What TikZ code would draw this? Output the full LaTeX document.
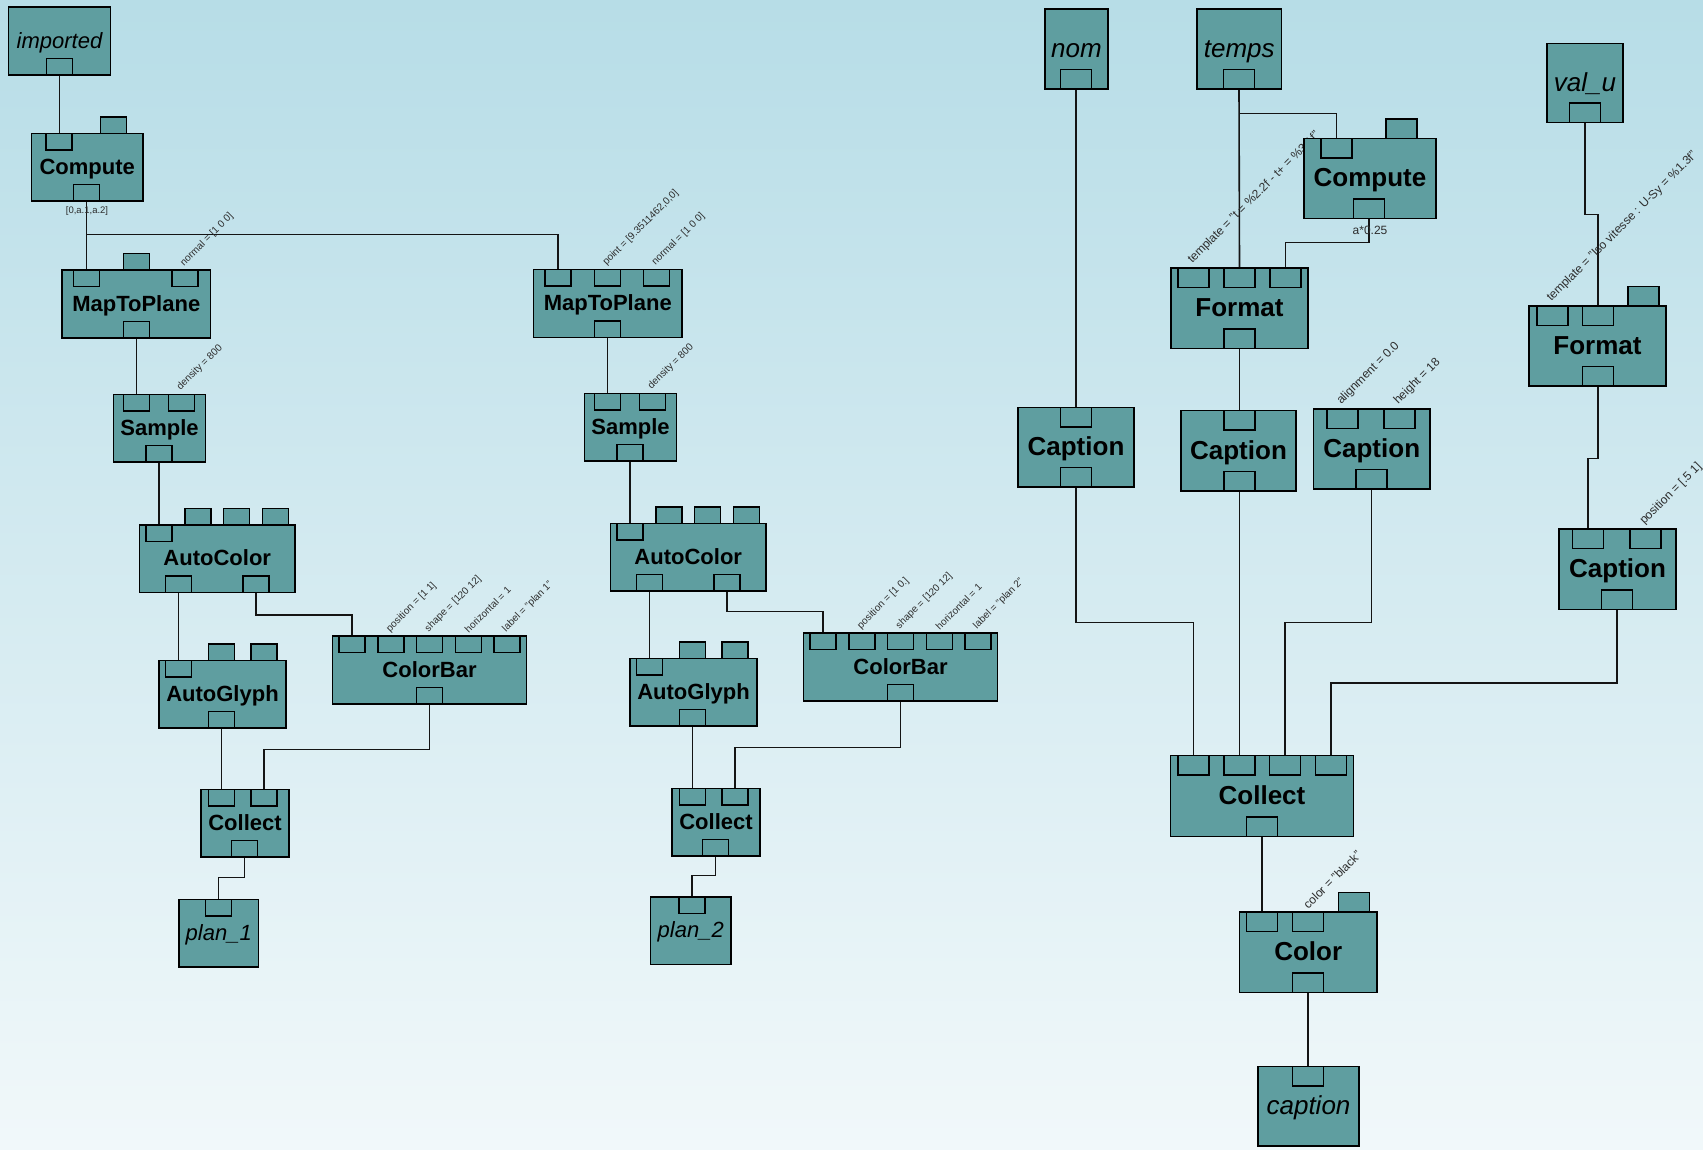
\documentclass[tikz,border=0pt]{standalone}
\usepackage{fontspec}
\setmainfont{Liberation Sans}
\definecolor{teal0}{RGB}{95,158,160}
\definecolor{bgtop}{RGB}{183,221,231}
\definecolor{bgbot}{RGB}{241,248,250}
\definecolor{wirecol}{RGB}{20,20,20}
\definecolor{labcol}{RGB}{45,45,45}
\pgfdeclarelayer{back}
\pgfdeclarelayer{links}
\pgfsetlayers{back,links,main}
% parameter label above an input port
\newcommand\parlabel[3]{\node[#1] at ([xshift=0.5pt,yshift=2pt]#2.north) {#3};}
\begin{document}
\begin{tikzpicture}[x=1pt,y=-1pt,
  box/.style={draw=black, fill=teal0, line width=1.5pt, anchor=north west,
    inner sep=0pt, outer sep=0pt},
  boxL/.style={box, text height=15.8pt, text depth=1.8pt},
  boxR/.style={box, text height=18.7pt, text depth=2.1pt},
  fnL/.style={boxL, font=\fontsize{22}{26}\selectfont\bfseries},
  fnR/.style={boxR, font=\fontsize{26}{30}\selectfont\bfseries},
  ioL/.style={boxL, font=\fontsize{22}{26}\selectfont\itshape},
  ioR/.style={boxR, font=\fontsize{26}{30}\selectfont\itshape},
  portL/.style={draw=black, fill=teal0, line width=1.3pt, inner sep=0pt,
    outer sep=0pt, minimum width=26pt, minimum height=16.5pt},
  portR/.style={draw=black, fill=teal0, line width=1.3pt, inner sep=0pt,
    outer sep=0pt, minimum width=31pt, minimum height=19.5pt},
  portInL/.style={portL, anchor=north west},
  portUpL/.style={portL, anchor=south west},
  portDnL/.style={portL, anchor=south west},
  portInR/.style={portR, anchor=north west},
  portUpR/.style={portR, anchor=south west},
  portDnR/.style={portR, anchor=south west},
  wire/.style={draw=wirecol, line width=1.6pt},
  par/.style={rotate=45, anchor=south west, inner sep=0pt, text=labcol},
  parL/.style={par, font=\fontsize{10}{12}\selectfont},
  parR/.style={par, font=\fontsize{12}{14}\selectfont},
  note/.style={inner sep=0pt, text=labcol}]

\useasboundingbox (0,0) rectangle (1703,1149);
\begin{pgfonlayer}{back}
  \shade[top color=bgtop, bottom color=bgbot] (0,0) rectangle (1703,1149);
\end{pgfonlayer}

% ---------------- first pipeline ----------------
\node[ioL, minimum width=102pt, minimum height=68pt] (imp) at (8.5,7) {imported};
\node[portDnL] (impo) at (46.5,75) {};

\node[fnL, minimum width=111.5pt, minimum height=67.5pt] (cmp1) at (31.5,133.5) {Compute};
\node[portInL] (c1i1) at (46,133.5) {};
\node[portUpL] (c1i2) at (100.5,133.5) {};
\node[portDnL] (c1o) at (73.5,201) {};
\node[note, font=\fontsize{9.5}{11}\selectfont] (c1lab) at (87,211) {[0,a.1,a.2]};

\node[fnL, minimum width=148.5pt, minimum height=68pt] (mtp1) at (62,270) {MapToPlane};
\node[portInL] (m1i1) at (73.5,270) {};
\node[portUpL] (m1i2) at (123.5,270) {};
\node[portInL] (m1i3) at (172,270) {};
\node[portDnL] (m1o) at (123.5,338) {};

\node[fnL, minimum width=92pt, minimum height=67.5pt] (smp1) at (113.5,394.5) {Sample};
\node[portInL] (s1i1) at (123.5,394.5) {};
\node[portInL] (s1i2) at (168.5,394.5) {};
\node[portDnL] (s1o) at (146,462) {};

\node[fnL, minimum width=155.5pt, minimum height=67.5pt] (ac1) at (139.5,525) {AutoColor};
\node[portInL] (a1i1) at (146,525) {};
\node[portUpL] (a1i2) at (185,525) {};
\node[portUpL] (a1i3) at (223.5,525) {};
\node[portUpL] (a1i4) at (262.5,525) {};
\node[portDnL] (a1o1) at (165.5,592.5) {};
\node[portDnL] (a1o2) at (243,592.5) {};

\node[fnL, minimum width=127pt, minimum height=67.5pt] (ag1) at (159,660.5) {AutoGlyph};
\node[portInL] (g1i1) at (165.5,660.5) {};
\node[portUpL] (g1i2) at (208.5,660.5) {};
\node[portUpL] (g1i3) at (251,660.5) {};
\node[portDnL] (g1o) at (208.5,728) {};

\node[fnL, minimum width=194pt, minimum height=68pt] (cb1) at (332.5,636) {ColorBar};
\node[portInL] (b1i1) at (339,636) {};
\node[portInL] (b1i2) at (378,636) {};
\node[portInL] (b1i3) at (416.5,636) {};
\node[portInL] (b1i4) at (455.5,636) {};
\node[portInL] (b1i5) at (494,636) {};
\node[portDnL] (b1o) at (416.5,704) {};

\node[fnL, minimum width=88pt, minimum height=67.5pt] (cl1) at (201,789.5) {Collect};
\node[portInL] (l1i1) at (208.5,789.5) {};
\node[portInL] (l1i2) at (251,789.5) {};
\node[portDnL] (l1o) at (231.5,857) {};

\node[ioL, minimum width=79.5pt, minimum height=67.5pt] (pl1) at (179,899.5) {plan\_1};
\node[portInL] (p1i) at (205.5,899.5) {};

% ---------------- second pipeline ----------------
\node[fnL, minimum width=148.5pt, minimum height=68pt] (mtp2) at (533.5,269.5) {MapToPlane};
\node[portInL] (m2i1) at (545,269.5) {};
\node[portInL] (m2i2) at (594.5,269.5) {};
\node[portInL] (m2i3) at (643.5,269.5) {};
\node[portDnL] (m2o) at (594.5,337.5) {};

\node[fnL, minimum width=92pt, minimum height=67.5pt] (smp2) at (584.5,393.5) {Sample};
\node[portInL] (s2i1) at (594.5,393.5) {};
\node[portInL] (s2i2) at (639.5,393.5) {};
\node[portDnL] (s2o) at (617,461) {};

\node[fnL, minimum width=155.5pt, minimum height=67.5pt] (ac2) at (610.5,523.5) {AutoColor};
\node[portInL] (a2i1) at (617,523.5) {};
\node[portUpL] (a2i2) at (656,523.5) {};
\node[portUpL] (a2i3) at (694.5,523.5) {};
\node[portUpL] (a2i4) at (733.5,523.5) {};
\node[portDnL] (a2o1) at (636.5,591) {};
\node[portDnL] (a2o2) at (714,591) {};

\node[fnL, minimum width=127pt, minimum height=67.5pt] (ag2) at (630,658.5) {AutoGlyph};
\node[portInL] (g2i1) at (636.5,658.5) {};
\node[portUpL] (g2i2) at (679.5,658.5) {};
\node[portUpL] (g2i3) at (722,658.5) {};
\node[portDnL] (g2o) at (679.5,726) {};

\node[fnL, minimum width=194pt, minimum height=68pt] (cb2) at (803.5,633) {ColorBar};
\node[portInL] (b2i1) at (810,633) {};
\node[portInL] (b2i2) at (849,633) {};
\node[portInL] (b2i3) at (887.5,633) {};
\node[portInL] (b2i4) at (926.5,633) {};
\node[portInL] (b2i5) at (965,633) {};
\node[portDnL] (b2o) at (887.5,701) {};

\node[fnL, minimum width=88pt, minimum height=67.5pt] (cl2) at (672,788.5) {Collect};
\node[portInL] (l2i1) at (679.5,788.5) {};
\node[portInL] (l2i2) at (722,788.5) {};
\node[portDnL] (l2o) at (702.5,856) {};

\node[ioL, minimum width=80.5pt, minimum height=67.5pt] (pl2) at (650.5,897) {plan\_2};
\node[portInL] (p2i) at (679,897) {};

% ---------------- caption pipeline ----------------
\node[ioR, minimum width=63pt, minimum height=80pt] (nom) at (1045,9) {nom};
\node[portDnR] (nomo) at (1060.5,89) {};
\node[ioR, minimum width=84.5pt, minimum height=80pt] (temps) at (1197,9) {temps};
\node[portDnR] (tmo) at (1223.5,89) {};
\node[ioR, minimum width=76pt, minimum height=79pt] (valu) at (1547,43.5) {val\_u};
\node[portDnR] (vuo) at (1569.5,122.5) {};

\node[fnR, minimum width=132pt, minimum height=80pt] (cmp2) at (1304,138.5) {Compute};
\node[portInR] (c2i1) at (1321,138.5) {};
\node[portUpR] (c2i2) at (1386,138.5) {};
\node[portDnR] (c2o) at (1353.5,218.5) {};
\node[note, font=\fontsize{12}{14}\selectfont] (c2lab) at (1370,230) {a*0.25};

\node[fnR, minimum width=137pt, minimum height=80.5pt] (fmt1) at (1171,268) {Format};
\node[portInR] (f1i1) at (1178,268) {};
\node[portInR] (f1i2) at (1224,268) {};
\node[portInR] (f1i3) at (1270,268) {};
\node[portDnR] (f1o) at (1224,348.5) {};

\node[fnR, minimum width=137pt, minimum height=80pt] (fmt2) at (1529,306) {Format};
\node[portInR] (f2i1) at (1537,306) {};
\node[portInR] (f2i2) at (1582.5,306) {};
\node[portUpR] (f2i3) at (1628,306) {};
\node[portDnR] (f2o) at (1582.5,386) {};

\node[fnR, minimum width=116pt, minimum height=79.5pt] (cap1) at (1018,407.5) {Caption};
\node[portInR] (k1i) at (1060.5,407.5) {};
\node[portDnR] (k1o) at (1060.5,487) {};

\node[fnR, minimum width=115pt, minimum height=80.5pt] (cap2) at (1181,410.5) {Caption};
\node[portInR] (k2i) at (1224,410.5) {};
\node[portDnR] (k2o) at (1224,491) {};

\node[fnR, minimum width=116.5pt, minimum height=80pt] (cap3) at (1313.5,409) {Caption};
\node[portInR] (k3i1) at (1327,409) {};
\node[portInR] (k3i2) at (1384,409) {};
\node[portDnR] (k3o) at (1356,489) {};

\node[fnR, minimum width=117pt, minimum height=80.5pt] (cap4) at (1559,529) {Caption};
\node[portInR] (k4i1) at (1572.5,529) {};
\node[portInR] (k4i2) at (1630,529) {};
\node[portDnR] (k4o) at (1601.5,609.5) {};

\node[fnR, minimum width=183pt, minimum height=81pt] (cl3) at (1170.5,755.5) {Collect};
\node[portInR] (l3i1) at (1178,755.5) {};
\node[portInR] (l3i2) at (1224,755.5) {};
\node[portInR] (l3i3) at (1269.5,755.5) {};
\node[portInR] (l3i4) at (1315.5,755.5) {};
\node[portDnR] (l3o) at (1246.5,836.5) {};

\node[fnR, minimum width=137.5pt, minimum height=80.5pt] (col) at (1239.5,912) {Color};
\node[portInR] (o1) at (1246.5,912) {};
\node[portInR] (o2) at (1292.5,912) {};
\node[portUpR] (o3) at (1338.5,912) {};
\node[portDnR] (coo) at (1292.5,992.5) {};

\node[ioR, minimum width=101pt, minimum height=79.5pt] (capo) at (1258,1066.5) {caption};
\node[portInR] (cpi) at (1292.5,1066.5) {};

% ---------------- links and parameter labels ----------------
\begin{pgfonlayer}{links}
  % first pipeline
  \draw[wire] (impo.south) -- (impo.south |- c1i1.north);
  \draw[wire] (c1o.south) -- (m1i1.north);
  \draw[wire] (c1o.south |- 0,234.5) -| (m2i1.north);
  \draw[wire] (m1o.south) -- (s1i1.north);
  \draw[wire] (s1o.south) -- (a1i1.north);
  \draw[wire] (a1o1.south) -- (g1i1.north);
  \draw[wire] (a1o2.south) -- (a1o2.south |- 0,615) -| (b1i1.north);
  \draw[wire] (g1o.south) -- (l1i1.north);
  \draw[wire] (b1o.south) -- (b1o.south |- 0,749.5) -| (l1i2.north);
  \draw[wire] (l1o.south) -- (l1o.south |- 0,877.5) -| (p1i.north);
  % second pipeline
  \draw[wire] (m2o.south) -- (s2i1.north);
  \draw[wire] (s2o.south) -- (a2i1.north);
  \draw[wire] (a2o1.south) -- (g2i1.north);
  \draw[wire] (a2o2.south) -- (a2o2.south |- 0,611.5) -| (b2i1.north);
  \draw[wire] (g2o.south) -- (l2i1.north);
  \draw[wire] (b2o.south) -- (b2o.south |- 0,747.5) -| (l2i2.north);
  \draw[wire] (l2o.south) -- (l2o.south |- 0,875.5) -| (p2i.north);
  % caption pipeline
  \draw[wire] (nomo.south) -- (k1i.north);
  \draw[wire] (tmo.south) -- (f1i2.north);
  \draw[wire] (tmo.south |- 0,113.5) -| (c2i1.north);
  \draw[wire] (c2o.south) -- (c2o.south |- 0,242.5) -| (f1i3.north);
  \draw[wire] (vuo.south) -- (vuo.south |- 0,214.5) -| (f2i2.north);
  \draw[wire] (f1o.south) -- (k2i.north);
  \draw[wire] (f2o.south) -- (f2o.south |- 0,458.5) -| (k4i1.north);
  \draw[wire] (k1o.south) -- (k1o.south |- 0,622.5) -| (l3i1.north);
  \draw[wire] (k2o.south) -- (l3i2.north);
  \draw[wire] (k3o.south) -- (k3o.south |- 0,622.5) -| (l3i3.north);
  \draw[wire] (k4o.south) -- (k4o.south |- 0,683) -| (l3i4.north);
  \draw[wire] (l3o.south) -- (o1.north);
  \draw[wire] (coo.south) -- (cpi.north);

  % parameters
  \parlabel{parL}{m1i3}{normal = [1 0 0]}
  \parlabel{parL}{m2i2}{point = [9.3511462,0,0]}
  \parlabel{parL}{m2i3}{normal = [1 0 0]}
  \parlabel{parL}{s1i2}{density = 800}
  \parlabel{parL}{s2i2}{density = 800}
  \parlabel{parL}{b1i2}{position = [1 1]}
  \parlabel{parL}{b1i3}{shape = [120 12]}
  \parlabel{parL}{b1i4}{horizontal = 1}
  \parlabel{parL}{b1i5}{label = "plan 1"}
  \parlabel{parL}{b2i2}{position = [1 0.]}
  \parlabel{parL}{b2i3}{shape = [120 12]}
  \parlabel{parL}{b2i4}{horizontal = 1}
  \parlabel{parL}{b2i5}{label = "plan 2"}
  \parlabel{parR}{f1i1}{template = "t = \%2.2f - t+ = \%3.1f"}
  \parlabel{parR}{f2i1}{template = "Iso vitesse : U-Sy = \%1.3f"}
  \parlabel{parR}{k3i1}{alignment = 0.0}
  \parlabel{parR}{k3i2}{height = 18}
  \parlabel{parR}{k4i2}{position = [.5 1]}
  \parlabel{parR}{o2}{color = "black"}
\end{pgfonlayer}
\end{tikzpicture}
\end{document}
